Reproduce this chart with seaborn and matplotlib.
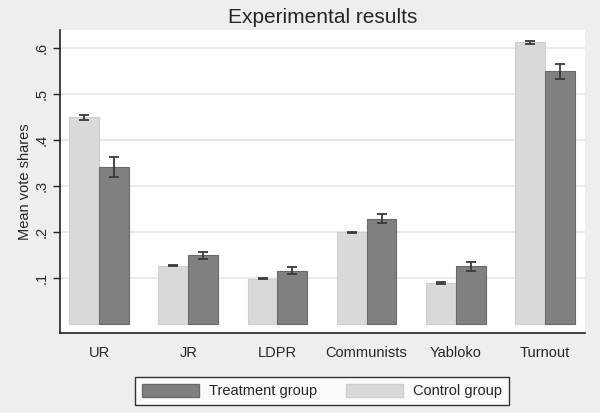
import pandas as pd
import numpy as np
import matplotlib
matplotlib.use("Agg")
import matplotlib.pyplot as plt
import seaborn as sns
from matplotlib.patches import Patch

# data
parties = ["UR", "JR", "LDPR", "Communists", "Yabloko", "Turnout"]
control_mean = [0.449, 0.127, 0.0986, 0.199, 0.0899, 0.612]
control_err = [0.005, 0.002, 0.0015, 0.002, 0.002, 0.004]
treatment_mean = [0.342, 0.149, 0.116, 0.229, 0.125, 0.549]
treatment_err = [0.022, 0.0075, 0.0075, 0.009, 0.0095, 0.016]
yticks = [0.1, 0.2, 0.3, 0.4, 0.5, 0.6]
ytick_labels = [".1", ".2", ".3", ".4", ".5", ".6"]

groups = ["Control group", "Treatment group"]
colors = {"Control group": "#d9d9d9", "Treatment group": "#808080"}
edges = {"Control group": "#cfcfcf", "Treatment group": "#6a6a6a"}

df = pd.DataFrame({
    "party": parties * 2,
    "group": [groups[0]] * len(parties) + [groups[1]] * len(parties),
    "mean": control_mean + treatment_mean,
    "err": control_err + treatment_err,
})

sns.set_theme(style="white")
plt.rcParams["font.family"] = ["Liberation Sans", "DejaVu Sans"]

fig = plt.figure(figsize=(6, 4.13), dpi=100, facecolor="#eeeeee")
ax = fig.add_axes([0.1, 0.1937, 0.875, 0.7337])
ax.set_facecolor("white")

for y in yticks:
    ax.axhline(y, color="#e8e8e8", lw=1.3, zorder=0)

sns.barplot(data=df, x="party", y="mean", hue="group", hue_order=groups,
            palette=colors, width=0.67, errorbar=None, ax=ax, legend=False,
            saturation=1, zorder=2)

# edges + error bars
for cont, g in zip(ax.containers, groups):
    sub = df[df["group"] == g]
    xs = [b.get_x() + b.get_width() / 2 for b in cont]
    for b in cont:
        b.set_edgecolor(edges[g])
        b.set_linewidth(0.8)
    ax.errorbar(xs, sub["mean"], yerr=sub["err"], fmt="none",
                ecolor="#3a3a3a", elinewidth=1.3, capsize=3.8, capthick=1.3,
                zorder=3)

ax.set_xlim(-0.44, 5.45)
ax.set_ylim(-0.0196, 0.639)
ax.set_yticks(yticks)
ax.set_yticklabels(ytick_labels, rotation=90, va="center", fontsize=10.5)
ax.tick_params(axis="y", left=True, length=5, width=1, color="#222222", pad=3)
ax.tick_params(axis="x", bottom=False, labelsize=10.5, pad=3)
ax.set_xlabel("")
ax.set_ylabel("Mean vote shares", fontsize=10.5, labelpad=2)

for s in ["top", "right"]:
    ax.spines[s].set_visible(False)
for s in ["left", "bottom"]:
    ax.spines[s].set_color("#222222")
    ax.spines[s].set_linewidth(1.2)

ax.set_title("Experimental results", fontsize=15, pad=5)

handles = [Patch(facecolor=colors["Treatment group"], edgecolor=edges["Treatment group"]),
           Patch(facecolor=colors["Control group"], edgecolor=edges["Control group"])]
leg = fig.legend(handles, ["Treatment group", "Control group"], ncol=2,
                 loc="center", bbox_to_anchor=(0.537, 0.0533), fontsize=10.5,
                 frameon=True, fancybox=False, edgecolor="black",
                 handlelength=3.9, handleheight=1.0, handletextpad=0.7,
                 columnspacing=2.0, borderpad=0.45, borderaxespad=0.5)
leg.get_frame().set_linewidth(1.0)
leg.get_frame().set_facecolor("white")

fig.savefig("out.png", dpi=100, facecolor=fig.get_facecolor())
